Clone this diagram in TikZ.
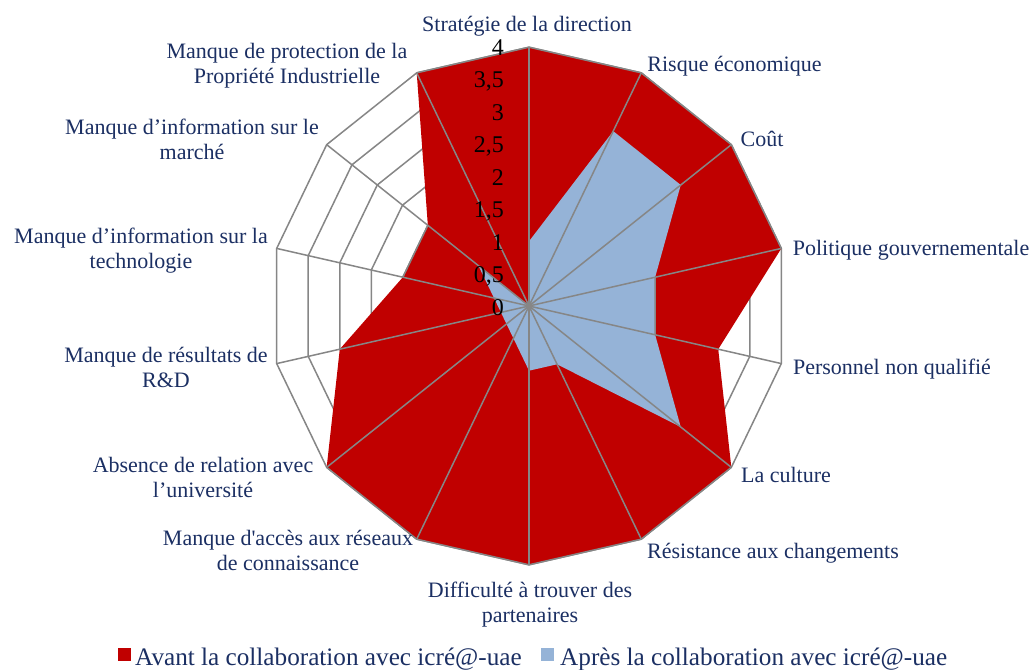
\documentclass[tikz,border=0pt]{standalone}
\usepackage{fontspec}
\setmainfont{Liberation Serif}
\newfontfamily\plainf{Liberation Serif}
\usetikzlibrary{calc}
\definecolor{redser}{HTML}{C00000}
\definecolor{blueser}{HTML}{95B3D7}
\definecolor{gridc}{HTML}{868686}
\definecolor{labc}{HTML}{1B2F63}
\tikzset{
  gridline/.style={draw=gridc,line width=1.5pt,line join=round},
  lab/.style={text=labc,font=\fontsize{22}{25}\selectfont,inner sep=0pt,align=center},
  tick/.style={text=black,font=\fontsize{24}{24}\selectfont,inner sep=0pt,anchor=east},
  legtext/.style={text=labc,font=\fontsize{25.2}{26}\selectfont,inner sep=0pt,anchor=west},
  legkey/.style={minimum size=13pt,inner sep=0pt,anchor=center}
}
\begin{document}
\begin{tikzpicture}[x=1pt,y=-1pt]
\useasboundingbox[fill=white] (0,0) rectangle (1032,669);
\coordinate (O) at (529,306);
% ring vertices: A=4, P=3.5, B=3, Q=2.5, C=2, D=1
\foreach \i in {0,...,13}{
  \coordinate (A\i) at ({529+258.8*sin(\i*360/14)},{306-258.8*cos(\i*360/14)});
  \coordinate (P\i) at ({529+226.45*sin(\i*360/14)},{306-226.45*cos(\i*360/14)});
  \coordinate (B\i) at ({529+194.1*sin(\i*360/14)},{306-194.1*cos(\i*360/14)});
  \coordinate (Q\i) at ({529+161.75*sin(\i*360/14)},{306-161.75*cos(\i*360/14)});
  \coordinate (C\i) at ({529+129.4*sin(\i*360/14)},{306-129.4*cos(\i*360/14)});
  \coordinate (D\i) at ({529+64.7*sin(\i*360/14)},{306-64.7*cos(\i*360/14)});
}
% rings under the series
\foreach \n in {A,P,B,Q,C}{
  \draw[gridline] (\n0)--(\n1)--(\n2)--(\n3)--(\n4)--(\n5)--(\n6)--(\n7)--(\n8)--(\n9)--(\n10)--(\n11)--(\n12)--(\n13)--cycle;
}
% series
\fill[redser] (A0)--(A1)--(A2)--(A3)--(B4)--(A5)--(A6)--(A7)--(A8)--(A9)--(B10)--(C11)--(C12)--(A13)--cycle;
\fill[blueser] (D0)--(B1)--(B2)--(C3)--(C4)--(B5)--(D6)--(D7)--(D12)--(O)--cycle;
% ring pieces that show on the series' borders
\draw[gridline] (A13)--(A0)--(A1)--(A2)--(A3);
\draw[gridline] (A5)--(A6)--(A7)--(A8)--(A9);
\draw[gridline] (C3)--(C4);
\draw[gridline] (C11)--(C12);
% spokes
\foreach \i in {0,...,13}{ \draw[gridline] (O)--(A\i); }
\fill[gridc] (O) circle (3pt);
% value ticks
\node[tick] (t0) at (504,308) {0};
\node[tick] (t05) at (504,276) {0,5};
\node[tick] (t1) at (504,243) {1};
\node[tick] (t15) at (504,211) {1,5};
\node[tick] (t2) at (504,178) {2};
\node[tick] (t25) at (504,146) {2,5};
\node[tick] (t3) at (504,113) {3};
\node[tick] (t35) at (504,81) {3,5};
\node[tick] (t4) at (504,48) {4};
% category labels
\node[lab] (l0) at (527,26) {Stratégie de la direction};
\node[lab] (l1) at (734.5,66) {Risque économique};
\node[lab] (l2) at (762,139) {Coût};
\node[lab] (l3) at (911,250) {Politique gouvernementale};
\node[lab] (l4) at (892,369) {Personnel non qualifié};
\node[lab] (l5) at (786,475) {La culture};
\node[lab] (l6) at (773,553) {Résistance aux changements};
\node[lab] (l7) at (530,605) {Difficulté à trouver des\\partenaires};
\node[lab] (l8) at (288,550) {Manque {\plainf d'}accès aux réseaux\\de connaissance};
\node[lab] (l9) at (203,477.5) {Absence de relation avec\\l’université};
\node[lab] (l10) at (166,367.5) {Manque de résultats de\\R\&D};
\node[lab] (l11) at (141,251) {Manque d’information sur la\\technologie};
\node[lab] (l12) at (192,139) {Manque d’information sur le\\marché};
\node[lab] (l13) at (287,66) {Manque de protection de la\\Propriété Industrielle};
% legend
\node[legkey,fill=redser] (k1) at (124.5,654.5) {};
\node[legtext] (k1t) at (135,659) {Avant la collaboration avec icré@-uae};
\node[legkey,fill=blueser] (k2) at (547,654.5) {};
\node[legtext] (k2t) at (560,659) {Après la collaboration avec icré@-uae};
\end{tikzpicture}
\end{document}
